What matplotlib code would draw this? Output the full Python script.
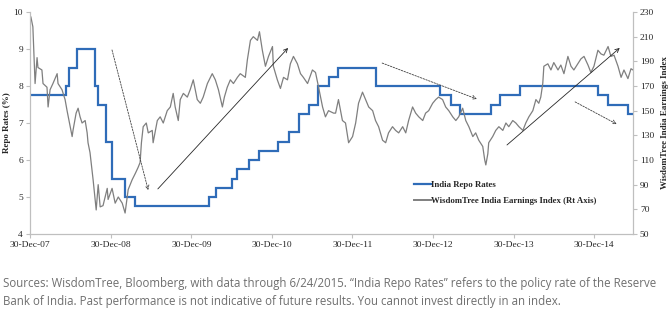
import matplotlib
matplotlib.use("Agg")
import matplotlib.pyplot as plt
import matplotlib.dates as mdates
from matplotlib.lines import Line2D
import pandas as pd

# ---------------- data ----------------
repo_dates = ["2007-12-30", "2008-06-12", "2008-06-25", "2008-07-30", "2008-10-20",
              "2008-11-03", "2008-12-08", "2009-01-05", "2009-03-05", "2009-04-21",
              "2010-03-19", "2010-04-20", "2010-07-02", "2010-07-27", "2010-09-16",
              "2010-11-02", "2011-01-25", "2011-03-17", "2011-05-03", "2011-06-16",
              "2011-07-26", "2011-09-16", "2011-10-25", "2012-04-17", "2013-01-29",
              "2013-03-19", "2013-05-03", "2013-09-20", "2013-10-29", "2014-01-28",
              "2015-01-15", "2015-03-04", "2015-06-02", "2015-06-24"]
repo_rates = [7.75, 8.00, 8.50, 9.00, 8.00, 7.50, 6.50, 5.50, 5.00, 4.75,
              5.00, 5.25, 5.50, 5.75, 6.00, 6.25, 6.50, 6.75, 7.25, 7.50,
              8.00, 8.25, 8.50, 8.00, 7.75, 7.50, 7.25, 7.50, 7.75, 8.00,
              7.75, 7.50, 7.25, 7.25]

idx_dates = [
    "2007-12-30", "2008-01-03", "2008-01-12", "2008-01-22", "2008-01-31", "2008-02-04",
    "2008-02-22", "2008-02-27", "2008-03-16", "2008-03-21", "2008-03-30", "2008-04-12",
    "2008-05-01", "2008-05-05", "2008-05-23", "2008-06-06", "2008-06-15", "2008-06-29",
    "2008-07-08", "2008-07-12", "2008-07-26", "2008-08-04", "2008-08-13", "2008-08-22",
    "2008-09-05", "2008-09-14", "2008-09-18", "2008-09-27", "2008-10-11", "2008-10-25",
    "2008-11-03", "2008-11-12", "2008-11-25", "2008-12-14", "2008-12-18", "2009-01-05",
    "2009-01-19", "2009-02-02", "2009-02-20", "2009-03-05", "2009-03-19", "2009-04-06",
    "2009-04-20", "2009-05-03", "2009-05-12", "2009-05-18", "2009-05-26", "2009-06-09",
    "2009-06-18", "2009-07-06", "2009-07-10", "2009-07-29", "2009-08-11", "2009-08-25",
    "2009-09-12", "2009-09-26", "2009-10-09", "2009-10-18", "2009-11-01", "2009-11-10",
    "2009-11-24", "2009-12-12", "2009-12-25", "2010-01-08", "2010-01-26", "2010-02-09",
    "2010-02-22", "2010-03-13", "2010-04-04", "2010-04-18", "2010-05-02", "2010-05-20",
    "2010-05-29", "2010-06-11", "2010-06-25", "2010-07-09", "2010-07-27", "2010-08-09",
    "2010-09-01", "2010-09-10", "2010-09-24", "2010-10-07", "2010-10-26", "2010-11-04",
    "2010-11-17", "2010-12-01", "2010-12-15", "2011-01-02", "2011-01-06", "2011-01-24",
    "2011-02-07", "2011-02-21", "2011-03-11", "2011-03-24", "2011-04-07", "2011-04-25",
    "2011-05-09", "2011-05-22", "2011-06-10", "2011-07-02", "2011-07-16", "2011-07-30",
    "2011-08-17", "2011-08-30", "2011-09-13", "2011-10-06", "2011-10-15", "2011-10-28",
    "2011-11-15", "2011-11-29", "2011-12-13", "2011-12-31", "2012-01-14", "2012-01-27",
    "2012-02-14", "2012-02-28", "2012-03-13", "2012-03-31", "2012-04-13", "2012-04-27",
    "2012-05-15", "2012-05-29", "2012-06-11", "2012-06-29", "2012-07-13", "2012-07-27",
    "2012-08-14", "2012-08-28", "2012-09-10", "2012-09-28", "2012-10-12", "2012-10-26",
    "2012-11-13", "2012-11-26", "2012-12-10", "2012-12-28", "2013-01-11", "2013-01-24",
    "2013-02-11", "2013-02-25", "2013-03-11", "2013-03-29", "2013-04-12", "2013-04-25",
    "2013-05-13", "2013-05-27", "2013-06-10", "2013-06-28", "2013-07-11", "2013-07-25",
    "2013-08-12", "2013-08-21", "2013-08-26", "2013-09-04", "2013-09-08", "2013-09-26",
    "2013-10-10", "2013-10-24", "2013-11-11", "2013-11-25", "2013-12-08", "2013-12-26",
    "2014-01-09", "2014-01-23", "2014-02-10", "2014-02-23", "2014-03-09", "2014-03-27",
    "2014-04-10", "2014-04-23", "2014-05-02", "2014-05-11", "2014-05-16", "2014-06-03",
    "2014-06-17", "2014-06-30", "2014-07-19", "2014-08-01", "2014-08-15", "2014-09-02",
    "2014-09-16", "2014-09-29", "2014-10-17", "2014-10-31", "2014-11-14", "2014-12-02",
    "2014-12-15", "2014-12-29", "2015-01-16", "2015-01-30", "2015-02-12", "2015-03-03",
    "2015-03-16", "2015-03-30", "2015-04-17", "2015-05-01", "2015-05-14", "2015-06-01",
    "2015-06-15", "2015-06-24"]
idx_values = [
    227, 226, 218, 172, 193, 185,
    183, 172, 169, 153, 167, 172,
    180, 172, 167, 159, 150, 137,
    129, 134, 148, 152, 145, 140,
    142, 132, 124, 116, 94, 69.5,
    90, 72, 73, 87, 78, 87,
    75, 80, 75, 67, 86, 94,
    99, 104, 108, 124, 137, 140,
    132, 134, 124, 142, 145, 140,
    150, 153, 164, 153, 142, 159,
    164, 161, 167, 175, 159, 156,
    161, 172, 180, 175, 167, 153,
    161, 169, 175, 172, 177, 180,
    177, 191, 207, 210, 207, 214,
    199, 186, 194, 202, 186, 175,
    168, 177, 175, 188, 194, 188,
    180, 177, 172, 183, 181, 169,
    153, 145, 150, 148, 148, 159,
    142, 140, 124, 129, 140, 156,
    165, 159, 153, 150, 142, 137,
    126, 124, 132, 137, 134, 132,
    137, 132, 142, 153, 148, 145,
    142, 148, 150, 156, 159, 161,
    159, 153, 150, 145, 142, 145,
    152, 142, 137, 129, 132, 126,
    121, 110, 106, 115, 124, 129,
    134, 137, 134, 140, 137, 142,
    140, 137, 134, 140, 145, 150,
    159, 156, 161, 172, 186, 188,
    183, 189, 183, 187, 180, 194,
    186, 183, 188, 192, 194, 187,
    181, 186, 199, 196, 195, 202,
    194, 195, 186, 177, 183, 176,
    184, 183]

x_tick_dates = ["2007-12-30", "2008-12-30", "2009-12-30", "2010-12-30",
                "2011-12-30", "2012-12-30", "2013-12-30", "2014-12-30"]
left_ticks = [4, 5, 6, 7, 8, 9, 10]
right_ticks = [50, 70, 90, 110, 130, 150, 170, 190, 210, 230]

series_names = ["India Repo Rates", "WisdomTree India Earnings Index (Rt Axis)"]
left_label = "Repo Rates (%)"
right_label = "WisdomTree India Earnings Index"
caption_lines = [
    "Sources: WisdomTree, Bloomberg, with data through 6/24/2015. \u201cIndia Repo Rates\u201d refers to the policy rate of the Reserve",
    "Bank of India. Past performance is not indicative of future results. You cannot invest directly in an index.",
]

# ---------------- styling ----------------
BLUE = "#2f6cb8"
GREY = "#7f7f7f"
SPINE = "#bfbfbf"
SERIF = ["Liberation Serif", "DejaVu Serif"]
TXT = "#262626"

fig = plt.figure(figsize=(6.7, 3.17), dpi=100)
ax = fig.add_axes([30 / 670, 1 - 234 / 317, 603 / 670, 222 / 317])
ax2 = ax.twinx()

rd = pd.to_datetime(repo_dates)
idd = pd.to_datetime(idx_dates)

ax.step(rd, repo_rates, where="post", color=BLUE, lw=1.6, solid_joinstyle="miter")
ax2.plot(idd, idx_values, color=GREY, lw=0.9)

ax.set_xlim(pd.Timestamp("2007-12-30"), pd.Timestamp("2015-06-24"))
ax.set_ylim(4, 10)
ax2.set_ylim(50, 230)
ax.set_yticks(left_ticks)
ax2.set_yticks(right_ticks)
ax.set_xticks(pd.to_datetime(x_tick_dates))
ax.xaxis.set_major_formatter(mdates.DateFormatter("%d-%b-%y"))

for a in (ax, ax2):
    for s in a.spines.values():
        s.set_color(SPINE)
        s.set_linewidth(0.8)
    a.spines["top"].set_visible(False)
    a.tick_params(colors=SPINE, labelcolor=TXT, length=3, width=0.8, labelsize=6.8, pad=2)
    for lab in a.get_xticklabels() + a.get_yticklabels():
        lab.set_family(SERIF)

ax.set_ylabel(left_label, family=SERIF, fontsize=6.5, fontweight="bold", color=TXT, labelpad=2)
ax2.set_ylabel(right_label, family=SERIF, fontsize=6.5, fontweight="bold", color=TXT,
               rotation=90, labelpad=5)

# trend arrows (axes-fraction coordinates)
arrows = [
    ((0.136, 0.829), (0.196, 0.198), (0, (2, 1.5)), "#404040"),
    ((0.212, 0.203), (0.428, 0.838), "solid", "#262626"),
    ((0.584, 0.770), (0.741, 0.608), (0, (2, 1.5)), "#404040"),
    ((0.791, 0.401), (0.978, 0.838), "solid", "#262626"),
    ((0.904, 0.595), (0.973, 0.495), (0, (2, 1.5)), "#404040"),
]
for start, end, ls, col in arrows:
    ax2.annotate("", xy=end, xytext=start, xycoords="axes fraction", textcoords="axes fraction",
                 arrowprops=dict(arrowstyle="->", color=col, lw=0.6, linestyle=ls,
                                 shrinkA=0, shrinkB=0, mutation_scale=7))

handles = [Line2D([], [], color=BLUE, lw=1.6), Line2D([], [], color=GREY, lw=1.4)]
leg = ax2.legend(handles, series_names, loc="upper left", bbox_to_anchor=(0.63, 0.258),
                 frameon=False, borderpad=0, handlelength=1.9, handletextpad=0.05,
                 labelspacing=0.85, prop=dict(family=SERIF, size=6.3, weight="bold"))
for t in leg.get_texts():
    t.set_color(TXT)

for i, line in enumerate(caption_lines):
    fig.text(3 / 670, 1 - (284 + 17 * i) / 317, line, family=["Open Sans", "DejaVu Sans"],
             fontsize=8.3, color="#6f6f6f", va="center", ha="left")

fig.savefig("out.png", dpi=100)
